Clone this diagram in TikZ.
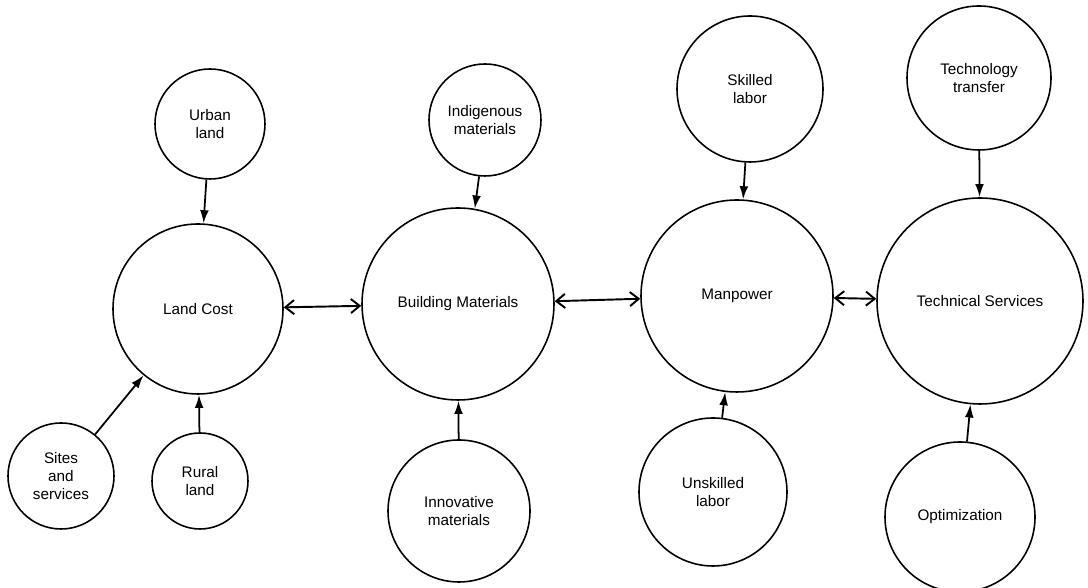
\documentclass[tikz,border=0pt]{standalone}
\usepackage{fontspec}
\setmainfont{Liberation Sans}
\usetikzlibrary{arrows.meta}
\newcommand{\bubblefont}{\fontsize{8.7}{10}\selectfont}

\begin{document}
\begin{tikzpicture}[bubble/.style={circle,draw,line width=0.9pt,inner sep=0pt,align=center,font=\bubblefont},
		feed/.style={-{Latex[length=7.5pt,width=5pt]},line width=1pt},
		link/.style={{Straight Barb[length=5pt,width=8pt]}-{Straight Barb[length=5pt,width=8pt]},line width=1.1pt}]
		\useasboundingbox (0,0) rectangle (21.76,11.76);

		% main row
		\draw (3.96,5.58) node (land) [bubble,minimum size=3.4cm] {Land Cost};
		\draw (9.16,5.68) node (build) [bubble,minimum size=3.84cm] {Building Materials};
		\draw (14.74,5.84) node (man) [bubble,minimum size=3.84cm] {Manpower};
		\draw (19.60,5.74) node (tech) [bubble,minimum size=4.12cm] {Technical Services};

		% inputs
		\draw (4.20,9.28) node (urban) [bubble,minimum size=2.2cm] {Urban\\land};
		\draw (1.22,2.24) node (sites) [bubble,minimum size=2.12cm] {Sites\\and\\services};
		\draw (4.00,2.14) node (rural) [bubble,minimum size=1.92cm] {Rural\\land};
		\draw (9.70,9.36) node (indig) [bubble,minimum size=2.24cm] {Indigenous\\materials};
		\draw (9.18,1.54) node (innov) [bubble,minimum size=2.84cm] {Innovative\\materials};
		\draw (15.00,9.98) node (skill) [bubble,minimum size=2.92cm] {Skilled\\labor};
		\draw (14.26,1.92) node (unskill) [bubble,minimum size=2.96cm] {Unskilled\\labor};
		\draw (19.58,10.20) node (transfer) [bubble,minimum size=2.88cm] {Technology\\transfer};
		\draw (19.20,1.42) node (optim) [bubble,minimum size=3.0cm] {Optimization};

		\draw[link] (land) -- (build);
		\draw[link] (build) -- (man);
		\draw[link] (man) -- (tech);

		\draw[feed] (urban) -- (land);
		\draw[feed] (sites) -- (land);
		\draw[feed] (rural) -- (land);
		\draw[feed] (indig.-96) -- (build.80);
		\draw[feed] (innov) -- (build);
		\draw[feed] (skill) -- (man);
		\draw[feed] (unskill) -- (man);
		\draw[feed] (transfer) -- (tech);
		\draw[feed] (optim) -- (tech);
	\end{tikzpicture}
\end{document}
